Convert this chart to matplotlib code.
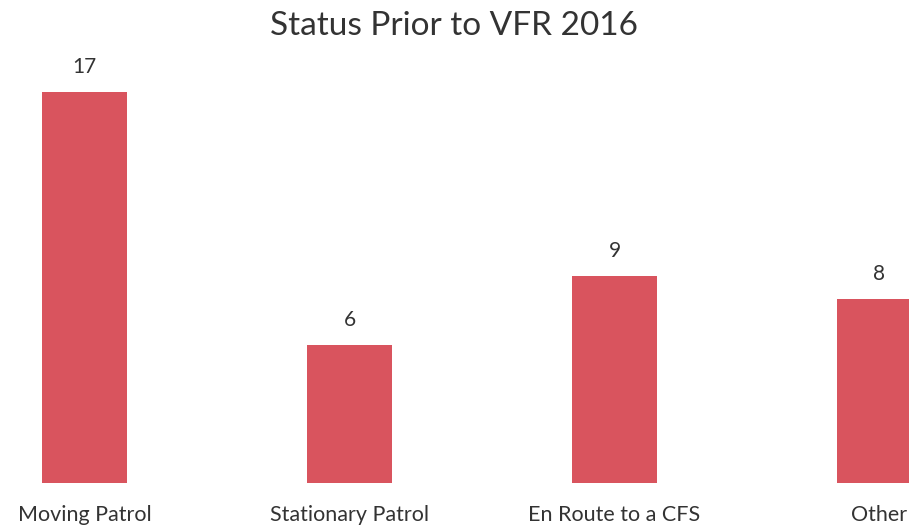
import matplotlib
matplotlib.use("Agg")
import matplotlib.pyplot as plt
from matplotlib.transforms import blended_transform_factory

categories = ["Moving Patrol", "Stationary Patrol", "En Route to a CFS", "Other"]
values = [17, 6, 9, 8]
title = "Status Prior to VFR 2016"

plt.rcParams['font.family'] = ['Lato', 'DejaVu Sans']

fig = plt.figure(figsize=(9.09, 5.29), dpi=100)
ax = fig.add_axes([0.0, 46/529, 1.0, 423/529])
x = list(range(len(categories)))
bars = ax.bar(x, values, width=0.32, color="#D9545E")
ax.set_xlim((0 - 84.5) / 265, (909 - 84.5) / 265)
ax.set_ylim(0, 423 / 23)
for xi, v in zip(x, values):
    ax.annotate(str(v), (xi, v), xytext=(0, 11), textcoords="offset points",
                ha="center", va="bottom", fontsize=15, color="#333333")
ax.set_xticks([])
ax.set_yticks([])
trans = blended_transform_factory(ax.transData, fig.transFigure)
for xi, lab in zip(x, categories):
    ax.text(xi, 1 - 515/529, lab, transform=trans, ha="center", va="center",
            fontsize=15.5, color="#333333", clip_on=False)
for s in ax.spines.values():
    s.set_visible(False)
fig.text(0.5, 1 - 26/529, title, ha="center", va="center", fontsize=24, color="#333333")
fig.savefig("out.png", dpi=100)
